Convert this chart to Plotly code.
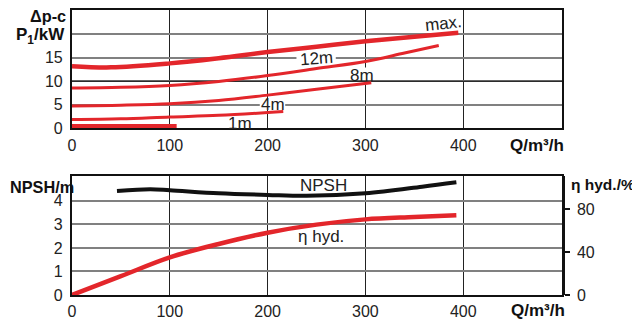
import plotly.graph_objects as go

# ---------------- data ----------------
q_ticks = [0, 100, 200, 300, 400]

q_max = [0, 40, 100, 150, 200, 250, 300, 350, 395]
p_max = [13.2, 12.95, 13.8, 14.9, 16.2, 17.35, 18.5, 19.45, 20.3]

q_12 = [0, 50, 100, 150, 200, 250, 300, 340, 375]
h_12 = [8.55, 8.7, 9.1, 9.95, 11.2, 12.7, 14.2, 16.0, 17.6]

q_8 = [0, 50, 100, 150, 200, 250, 306]
h_8 = [4.76, 4.9, 5.2, 5.9, 7.05, 8.3, 9.7]

q_4 = [0, 50, 100, 150, 216]
h_4 = [1.85, 2.0, 2.4, 2.75, 3.55]

q_1 = [0, 107]
h_1 = [0.43, 0.43]

q_npsh = [46, 80, 100, 150, 200, 240, 300, 358, 393]
npsh = [4.42, 4.49, 4.45, 4.32, 4.25, 4.21, 4.32, 4.6, 4.79]

q_eta = [0, 50, 100, 150, 200, 250, 300, 350, 393]
eta = [0, 17.5, 35, 47.5, 58, 65.5, 70.4, 72.6, 74.3]

RED = "#e3262b"
FONT = "Liberation Sans, Arial, sans-serif"

fig = go.Figure()


def red(x, y, w):
    fig.add_trace(go.Scatter(x=x, y=y, mode="lines", xaxis="x", yaxis="y",
                             line=dict(color=RED, width=w, shape="spline"),
                             showlegend=False, hoverinfo="skip"))


red(q_max, p_max, 4.5)
red(q_12, h_12, 3)
red(q_8, h_8, 3)
red(q_4, h_4, 3)
red(q_1, h_1, 4.5)

fig.add_trace(go.Scatter(x=q_npsh, y=npsh, mode="lines", xaxis="x2", yaxis="y2",
                         line=dict(color="#111111", width=4, shape="spline"),
                         showlegend=False, hoverinfo="skip"))
fig.add_trace(go.Scatter(x=q_eta, y=eta, mode="lines", xaxis="x2", yaxis="y3",
                         line=dict(color=RED, width=4.5, shape="spline"),
                         showlegend=False, hoverinfo="skip"))

tickfont = dict(family=FONT, size=16, color="#222222")
xcommon = dict(range=[0, 501], tickvals=q_ticks, showgrid=True, gridcolor="#222222",
               gridwidth=1, showline=True, linecolor="#111111", linewidth=2.2,
               mirror=True, ticks="", tickfont=tickfont, zeroline=False,
               ticklabelstandoff=1, automargin=False)
ycommon = dict(showgrid=True, gridcolor="#808080", gridwidth=1.5, showline=True,
               linecolor="#111111", linewidth=2.2, mirror=True, ticks="",
               tickfont=tickfont, zeroline=False, ticklabelstandoff=4, automargin=False)

# page body has an 8px margin, so the figure is 632x313 placed at (8, 8)
fig.update_layout(
    width=632, height=313,
    margin=dict(l=64, r=78, t=2, b=26, autoexpand=False),
    paper_bgcolor="white", plot_bgcolor="white",
    font=dict(family=FONT, color="#222222"),
    xaxis=dict(anchor="y", domain=[0, 1], **xcommon),
    yaxis=dict(anchor="x", domain=[0.585, 1], range=[0, 25.15],
               tickvals=[0, 5, 10, 15, 20], ticktext=["0", "5", "10", "15", ""], **ycommon),
    xaxis2=dict(anchor="y2", domain=[0, 1], **xcommon),
    yaxis2=dict(anchor="x2", domain=[0, 0.4165], range=[0, 5.04],
                tickvals=[0, 1, 2, 3, 4], **ycommon),
    yaxis3=dict(anchor="x2", overlaying="y2", side="right", range=[0, 110.5],
                tickvals=[0, 40, 80], showgrid=False, showline=True,
                linecolor="#111111", linewidth=2.5, ticks="outside", ticklen=5,
                tickwidth=1.5, tickcolor="#111111", tickfont=tickfont, zeroline=False,
                ticklabelstandoff=4, automargin=False),
)

# black grid line at 10 and white gaps in grid behind labels
fig.add_shape(type="line", xref="x", yref="y", x0=0, x1=501, y0=10, y1=10,
              line=dict(color="#111111", width=1.2), layer="between")
for (x0, x1, y0, y1) in [(229.5, 269.7, 14.3, 15.7), (192, 218, 3.9, 6.0), (289, 311, 10.25, 12.9)]:
    fig.add_shape(type="rect", xref="x", yref="y", x0=x0, x1=x1, y0=y0, y1=y1,
                  fillcolor="white", line=dict(width=0), layer="between")

lab = dict(family=FONT, size=17, color="#222222")
bold = dict(family=FONT, size=17, color="#111111")
bold_m = dict(family=FONT, size=16.3, color="#111111")
bold_s = dict(family=FONT, size=15.5, color="#111111")


def note(text, x, y, xref, yref, font, xanchor="center", angle=0, pad=1):
    fig.add_annotation(text=text, x=x, y=y, xref=xref, yref=yref, showarrow=False,
                       font=font, xanchor=xanchor, yanchor="middle", textangle=angle,
                       borderpad=pad)


note("max.", 379.6, 22.2, "x", "y", lab, angle=-6)
note("12m", 250.2, 14.9, "x", "y", lab, angle=-4)
note("8m", 296.2, 11.3, "x", "y", lab)
note("4m", 205, 4.96, "x", "y", lab)
note("1m", 171.8, 1.1, "x", "y", lab)
note("NPSH", 257.4, 4.64, "x2", "y2", lab)
note("η hyd.", 255, 2.47, "x2", "y2", lab)

note("<b>Δp-c</b>", -0.0108, 0.978, "paper", "paper", bold_m, xanchor="right", pad=0)
note("<b>P<sub>1</sub>/kW</b>", -0.0108, 0.909, "paper", "paper", bold, xanchor="right")
note("<b>NPSH/m</b>", 0.0061, 0.379, "paper", "paper", bold_m, xanchor="right", pad=0)
note("<b>η hyd./%</b>", 1.0143, 0.386, "paper", "paper", bold_s, xanchor="left")
note("<b>Q/m³/h</b>", 1.0075, 0.5235, "paper", "paper", bold, xanchor="right")
note("<b>Q/m³/h</b>", 1.0096, -0.0554, "paper", "paper", bold, xanchor="right")

fig.write_html("out.html")
